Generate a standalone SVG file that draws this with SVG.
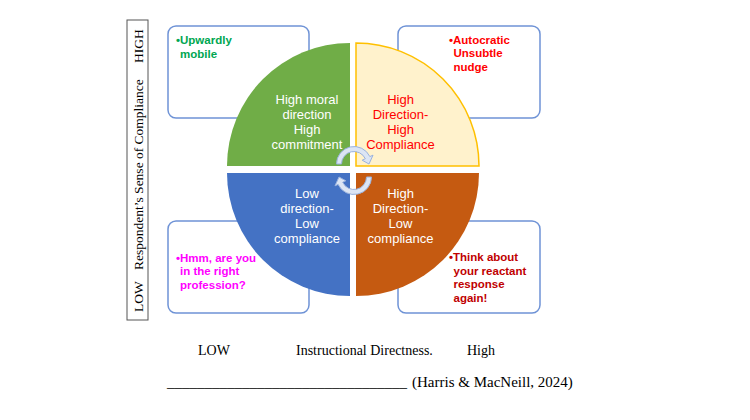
<svg xmlns="http://www.w3.org/2000/svg" width="750" height="420" viewBox="0 0 750 420">
<style>
.box{fill:#fff;stroke:#6F93D6;stroke-width:1.5}
.bt{font-family:"Liberation Sans",Arial,sans-serif;font-size:11.5px;font-weight:bold}
.qt{font-family:"Liberation Sans",Arial,sans-serif;font-size:13px;text-anchor:middle}
.tm{font-family:"Liberation Serif","Times New Roman",serif;fill:#000}
.arr{fill:#DCE5F4;stroke:#9AB2DD;stroke-width:1}
</style>
<rect width="750" height="420" fill="#fff"/>
<g id="axis-y">
<rect x="127" y="20" width="21" height="300" fill="none" stroke="#555" stroke-width="1"/>
<g transform="translate(143,0) rotate(-90)">
<text class="tm" x="-312" y="0" font-size="13.5">LOW</text>
<text class="tm" x="-270" y="0" font-size="13.5">Respondent’s Sense of Compliance</text>
<text class="tm" x="-63" y="0" font-size="13.5">HIGH</text>
</g>
</g>
<g id="box-tl">
<rect class="box" x="168" y="26" width="141" height="92" rx="8"/>
<text class="bt" fill="#00A651"><tspan x="176" y="44">•Upwardly</tspan><tspan x="180" y="57.5">mobile</tspan></text>
</g>
<g id="box-tr">
<rect class="box" x="398" y="26" width="142" height="92" rx="8"/>
<text class="bt" fill="#FF0000"><tspan x="449" y="43.5">•Autocratic</tspan><tspan x="453.5" y="57">Unsubtle</tspan><tspan x="453.5" y="70.5">nudge</tspan></text>
</g>
<g id="box-bl">
<rect class="box" x="168" y="221" width="141" height="92" rx="8"/>
<text class="bt" fill="#FF00FF"><tspan x="176" y="261.5">•Hmm, are you</tspan><tspan x="180" y="275">in the right</tspan><tspan x="180" y="288.5">profession?</tspan></text>
</g>
<g id="box-br">
<rect class="box" x="398" y="221" width="142" height="92" rx="8"/>
<text class="bt" fill="#C00000"><tspan x="449" y="261">•Think about</tspan><tspan x="453.5" y="274.5">your reactant</tspan><tspan x="453.5" y="288">response</tspan><tspan x="453.5" y="301.5">again!</tspan></text>
</g>
<g id="q-green">
<path d="M350,166 L227,166 A123,123 0 0 1 350,43 Z" fill="#70AD47"/>
<text class="qt" fill="#fff"><tspan x="307" y="104">High moral</tspan><tspan x="307" y="119">direction</tspan><tspan x="307" y="134">High</tspan><tspan x="307" y="149">commitment</tspan></text>
</g>
<g id="q-yellow">
<path d="M356,166 L356,43 A123,123 0 0 1 479,166 Z" fill="#FFF2CC" stroke="#FFC000" stroke-width="1.5"/>
<text class="qt" fill="#FF0000"><tspan x="400.5" y="104">High</tspan><tspan x="400.5" y="119">Direction-</tspan><tspan x="400.5" y="134">High</tspan><tspan x="400.5" y="149">Compliance</tspan></text>
</g>
<g id="q-blue">
<path d="M350,173 L350,296 A123,123 0 0 1 227,173 Z" fill="#4472C4"/>
<text class="qt" fill="#fff"><tspan x="307" y="197.5">Low</tspan><tspan x="307" y="212.5">direction-</tspan><tspan x="307" y="227.5">Low</tspan><tspan x="307" y="242.5">compliance</tspan></text>
</g>
<g id="q-orange">
<path d="M356,173 L479,173 A123,123 0 0 1 356,296 Z" fill="#C55A11"/>
<text class="qt" fill="#fff"><tspan x="400.5" y="197.5">High</tspan><tspan x="400.5" y="212.5">Direction-</tspan><tspan x="400.5" y="227.5">Low</tspan><tspan x="400.5" y="242.5">compliance</tspan></text>
</g>
<g id="connectors">
<path id="arrow-top" class="arr" d="M336.5,164 A17.5,17.5 0 0 1 369.86,156.6 L373.03,155.13 L369,164 L362.16,160.2 L365.33,158.72 A12.5,12.5 0 0 0 341.5,164 Z"/>
<path id="arrow-bottom" class="arr" transform="rotate(180 354 170.5)" d="M336.5,164 A17.5,17.5 0 0 1 369.86,156.6 L373.03,155.13 L369,164 L362.16,160.2 L365.33,158.72 A12.5,12.5 0 0 0 341.5,164 Z"/>
</g>
<g id="axis-x">
<text class="tm" x="198" y="355" font-size="14">LOW</text>
<text class="tm" x="296" y="355" font-size="14">Instructional Directness.</text>
<text class="tm" x="467" y="355" font-size="14">High</text>
<text class="tm" font-size="15" y="387"><tspan x="167">________________________________</tspan><tspan x="412">(Harris &amp; MacNeill, 2024)</tspan></text>
</g>
</svg>
